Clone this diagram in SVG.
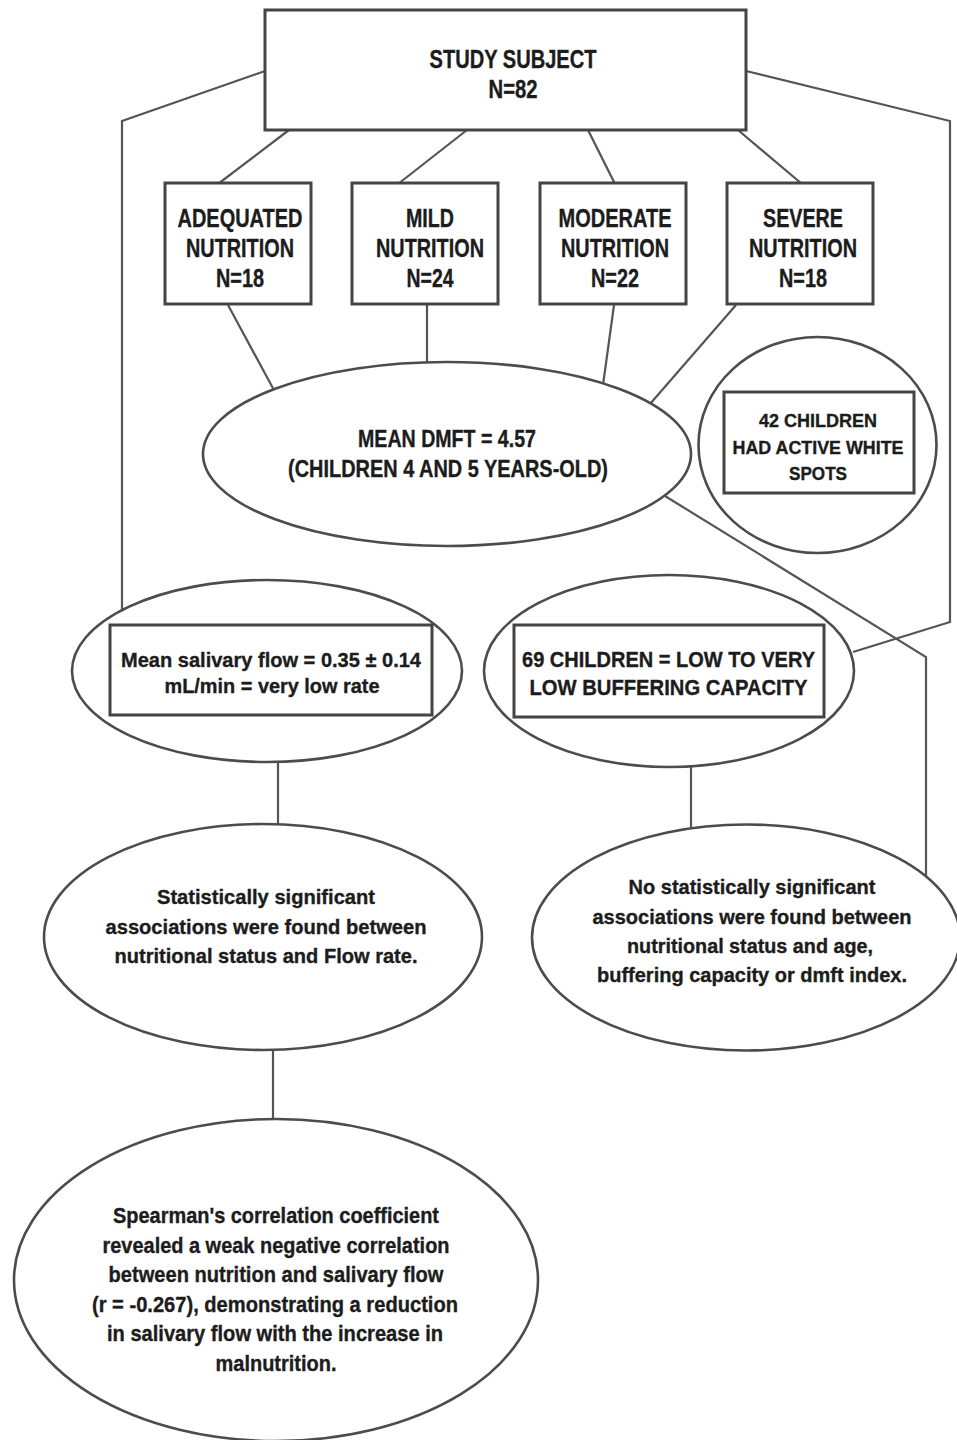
<svg xmlns="http://www.w3.org/2000/svg" width="957" height="1440" viewBox="0 0 957 1440">
<style>
.bg{fill:#ffffff}
.box{fill:#ffffff;stroke:#444444;stroke-width:3}
.ell{fill:#ffffff;stroke:#4c4c4c;stroke-width:2.6}
.inner{fill:none;stroke:#444444;stroke-width:3}
.conn{fill:none;stroke:#555555;stroke-width:2.2;stroke-linejoin:miter}
text{font-family:"Liberation Sans",Arial,sans-serif;font-weight:bold;fill:#1c1c1c;stroke:#1c1c1c;stroke-width:0.35;text-anchor:middle}
.cap25{font-size:25px}
.cap23{font-size:23px}
.cap22{font-size:22px}
.cap19{font-size:19px}
.mix22{font-size:22px}
.mix21{font-size:21px}
.mix20{font-size:20.5px}
</style>
<rect class="bg" x="0" y="0" width="957" height="1440"/>
<g id="connectors">
<polyline class="conn" points="265,71 122,121 122,610"/>
<polyline class="conn" points="746,71 950,121 950,622 853,652"/>
<line class="conn" x1="289" y1="130" x2="218" y2="184"/>
<line class="conn" x1="467" y1="130" x2="398" y2="184"/>
<line class="conn" x1="588" y1="130" x2="615" y2="184"/>
<line class="conn" x1="738" y1="130" x2="802" y2="184"/>
<line class="conn" x1="228" y1="305" x2="275" y2="392"/>
<line class="conn" x1="427" y1="305" x2="427" y2="366"/>
<line class="conn" x1="614" y1="305" x2="603" y2="385"/>
<line class="conn" x1="736" y1="305" x2="650" y2="404"/>
<polyline class="conn" points="665,496 926,657 926,880"/>
<line class="conn" x1="278" y1="760" x2="278" y2="826"/>
<line class="conn" x1="691" y1="765" x2="691" y2="829"/>
<line class="conn" x1="273" y1="1048" x2="273" y2="1121"/>
</g>
<g id="study-subject">
<rect class="box" x="265" y="10" width="481" height="120"/>
<text class="cap25" x="513" y="68" textLength="167" lengthAdjust="spacingAndGlyphs">STUDY SUBJECT</text>
<text class="cap25" x="513" y="98" textLength="49" lengthAdjust="spacingAndGlyphs">N=82</text>
</g>
<g id="adequated">
<rect class="box" x="165" y="183" width="146" height="121"/>
<text class="cap25" x="240" y="227" textLength="125" lengthAdjust="spacingAndGlyphs">ADEQUATED</text>
<text class="cap25" x="240" y="257" textLength="108" lengthAdjust="spacingAndGlyphs">NUTRITION</text>
<text class="cap25" x="240" y="287" textLength="48" lengthAdjust="spacingAndGlyphs">N=18</text>
</g>
<g id="mild">
<rect class="box" x="352" y="183" width="146" height="121"/>
<text class="cap25" x="430" y="227" textLength="48" lengthAdjust="spacingAndGlyphs">MILD</text>
<text class="cap25" x="430" y="257" textLength="108" lengthAdjust="spacingAndGlyphs">NUTRITION</text>
<text class="cap25" x="430" y="287" textLength="47" lengthAdjust="spacingAndGlyphs">N=24</text>
</g>
<g id="moderate">
<rect class="box" x="540" y="183" width="146" height="121"/>
<text class="cap25" x="615" y="227" textLength="113" lengthAdjust="spacingAndGlyphs">MODERATE</text>
<text class="cap25" x="615" y="257" textLength="108" lengthAdjust="spacingAndGlyphs">NUTRITION</text>
<text class="cap25" x="615" y="287" textLength="48" lengthAdjust="spacingAndGlyphs">N=22</text>
</g>
<g id="severe">
<rect class="box" x="727" y="183" width="146" height="121"/>
<text class="cap25" x="803" y="227" textLength="80" lengthAdjust="spacingAndGlyphs">SEVERE</text>
<text class="cap25" x="803" y="257" textLength="108" lengthAdjust="spacingAndGlyphs">NUTRITION</text>
<text class="cap25" x="803" y="287" textLength="48" lengthAdjust="spacingAndGlyphs">N=18</text>
</g>
<g id="mean-dmft">
<ellipse class="ell" cx="447" cy="454" rx="244" ry="92"/>
<text class="cap23" x="447" y="447" textLength="178" lengthAdjust="spacingAndGlyphs">MEAN DMFT = 4.57</text>
<text class="cap23" x="448" y="477" textLength="320" lengthAdjust="spacingAndGlyphs">(CHILDREN 4 AND 5 YEARS-OLD)</text>
</g>
<g id="white-spots">
<ellipse class="ell" cx="817.5" cy="445" rx="119" ry="108"/>
<rect class="inner" x="724" y="392" width="190" height="101"/>
<text class="cap19" x="818" y="427" textLength="118" lengthAdjust="spacingAndGlyphs">42 CHILDREN</text>
<text class="cap19" x="818" y="454" textLength="171" lengthAdjust="spacingAndGlyphs">HAD ACTIVE WHITE</text>
<text class="cap19" x="818" y="480" textLength="58" lengthAdjust="spacingAndGlyphs">SPOTS</text>
</g>
<g id="salivary-flow">
<ellipse class="ell" cx="267" cy="671" rx="195" ry="91"/>
<rect class="inner" x="110" y="625" width="322" height="90"/>
<text class="mix21" x="271" y="667" textLength="300" lengthAdjust="spacingAndGlyphs">Mean salivary flow = 0.35 ± 0.14</text>
<text class="mix21" x="272" y="693" textLength="215" lengthAdjust="spacingAndGlyphs">mL/min = very low rate</text>
</g>
<g id="buffering">
<ellipse class="ell" cx="669" cy="671" rx="185" ry="96"/>
<rect class="inner" x="514" y="625" width="310" height="92"/>
<text class="cap22" x="668.5" y="667" textLength="293" lengthAdjust="spacingAndGlyphs">69 CHILDREN = LOW TO VERY</text>
<text class="cap22" x="668.5" y="695" textLength="278" lengthAdjust="spacingAndGlyphs">LOW BUFFERING CAPACITY</text>
</g>
<g id="significant">
<ellipse class="ell" cx="263" cy="937" rx="219" ry="113"/>
<text class="mix20" x="266" y="904" textLength="218" lengthAdjust="spacingAndGlyphs">Statistically significant</text>
<text class="mix20" x="266" y="934" textLength="321" lengthAdjust="spacingAndGlyphs">associations were found between</text>
<text class="mix20" x="266" y="963" textLength="303" lengthAdjust="spacingAndGlyphs">nutritional status and Flow rate.</text>
</g>
<g id="not-significant">
<ellipse class="ell" cx="746" cy="937.5" rx="214" ry="113"/>
<text class="mix20" x="752" y="894" textLength="247" lengthAdjust="spacingAndGlyphs">No statistically significant</text>
<text class="mix20" x="752" y="924" textLength="319" lengthAdjust="spacingAndGlyphs">associations were found between</text>
<text class="mix20" x="750" y="953" textLength="246" lengthAdjust="spacingAndGlyphs">nutritional status and age,</text>
<text class="mix20" x="752" y="982" textLength="310" lengthAdjust="spacingAndGlyphs">buffering capacity or dmft index.</text>
</g>
<g id="spearman">
<ellipse class="ell" cx="276" cy="1280" rx="262" ry="161"/>
<text class="mix22" x="276" y="1223" textLength="326" lengthAdjust="spacingAndGlyphs">Spearman's correlation coefficient</text>
<text class="mix22" x="276" y="1252.5" textLength="347" lengthAdjust="spacingAndGlyphs">revealed a weak negative correlation</text>
<text class="mix22" x="276" y="1282" textLength="335" lengthAdjust="spacingAndGlyphs">between nutrition and salivary flow</text>
<text class="mix22" x="275" y="1311.5" textLength="366" lengthAdjust="spacingAndGlyphs">(r = -0.267), demonstrating a reduction</text>
<text class="mix22" x="275" y="1341" textLength="336" lengthAdjust="spacingAndGlyphs">in salivary flow with the increase in</text>
<text class="mix22" x="276" y="1371" textLength="121" lengthAdjust="spacingAndGlyphs">malnutrition.</text>
</g>
</svg>
